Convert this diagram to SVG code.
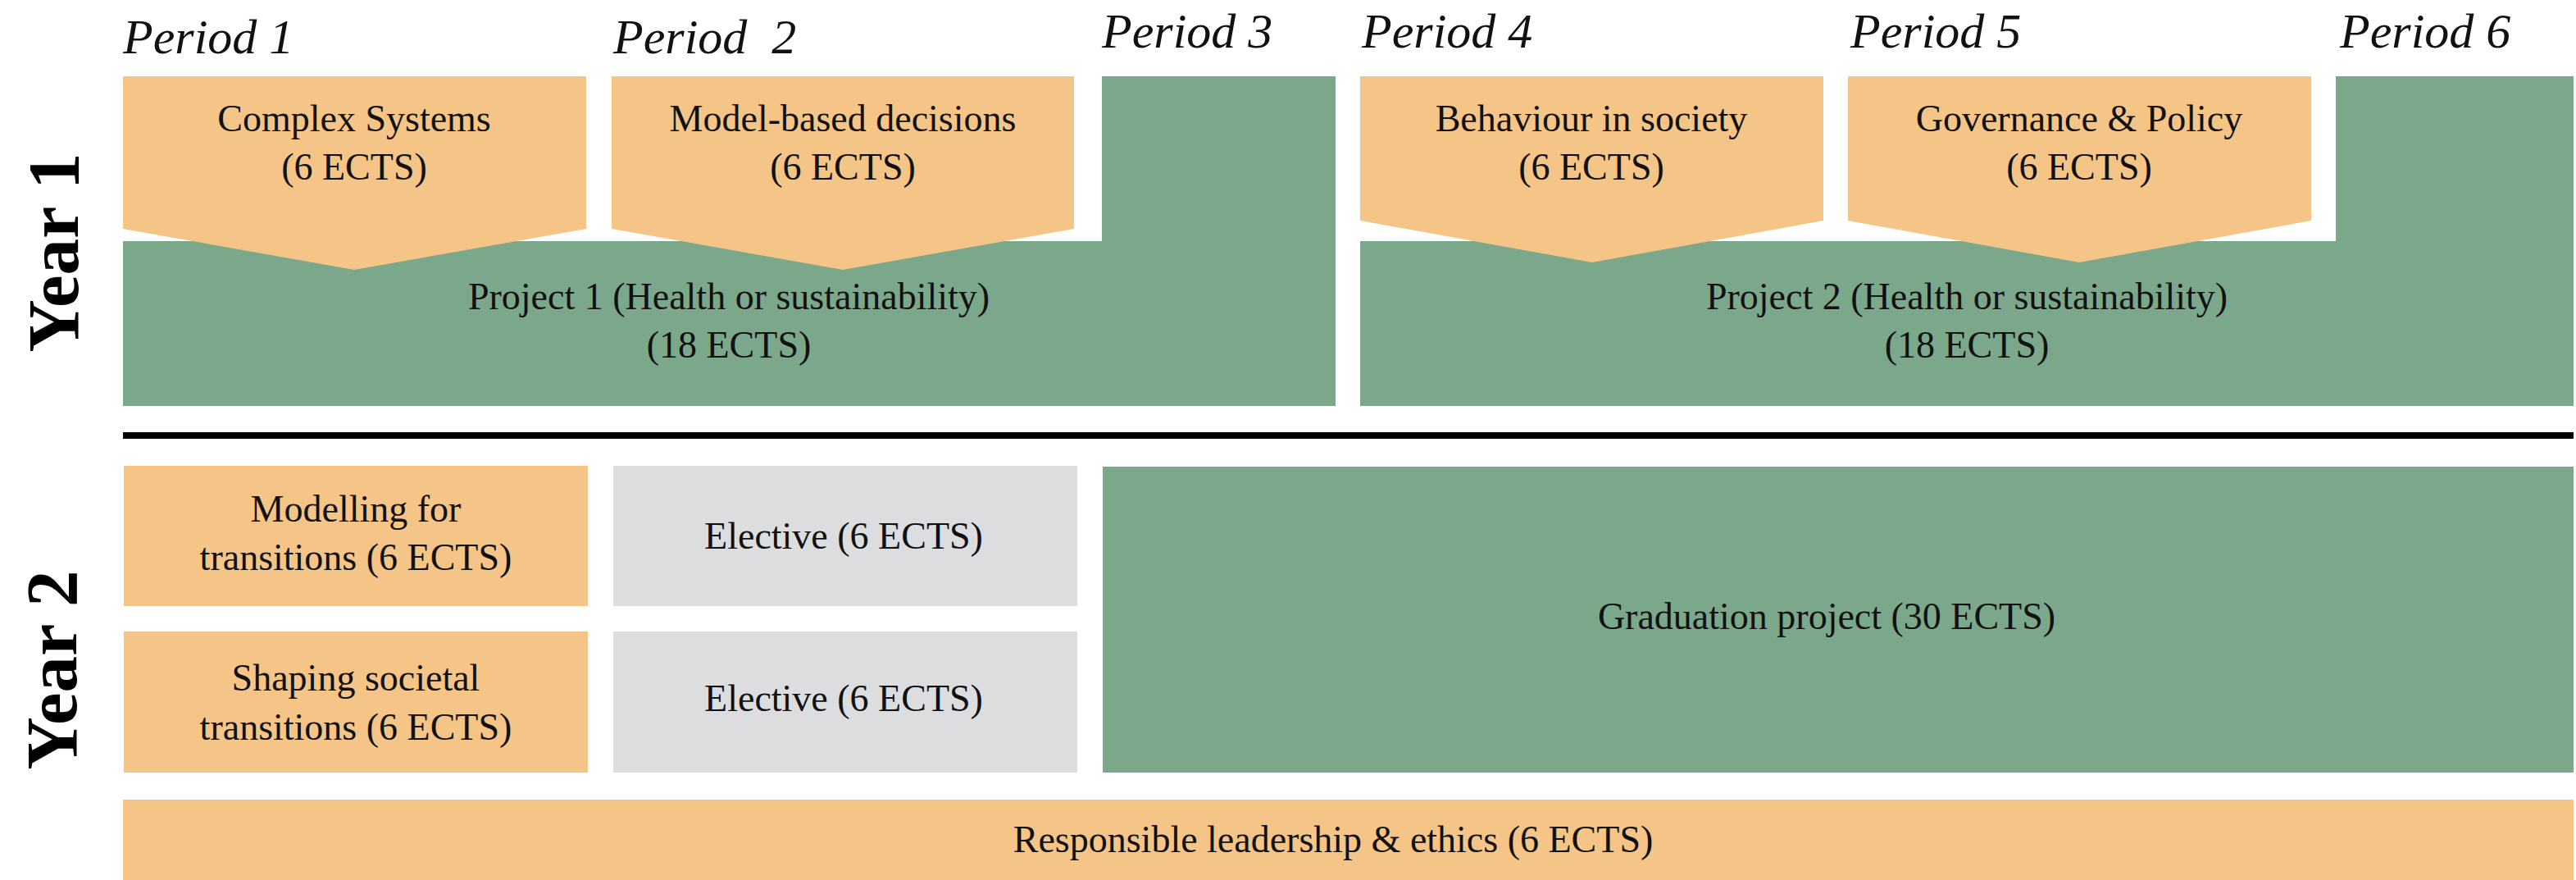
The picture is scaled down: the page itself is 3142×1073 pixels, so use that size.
<svg xmlns="http://www.w3.org/2000/svg" width="3142" height="1073" viewBox="0 0 3142 1073">
<style>
.bg{fill:#ffffff}
.or{fill:#F5C487}
.gr{fill:#7BA88B}
.gy{fill:#DCDDDF}
.t{font-family:"Liberation Serif","Times New Roman",serif;font-size:46px;fill:#111;text-anchor:middle}
.p{font-family:"Liberation Serif","Times New Roman",serif;font-style:italic;font-size:60px;fill:#111;white-space:pre}
.y{font-family:"Liberation Serif","Times New Roman",serif;font-weight:bold;font-size:89px;fill:#000;text-anchor:middle}
</style>
<rect class="bg" x="0" y="0" width="3142" height="1073"/>
<g id="period-labels">
<text class="p" x="150" y="65">Period 1</text>
<text class="p" x="748" y="65" xml:space="preserve">Period  2</text>
<text class="p" x="1344" y="58">Period 3</text>
<text class="p" x="1661" y="58">Period 4</text>
<text class="p" x="2257" y="58">Period 5</text>
<text class="p" x="2854" y="58">Period 6</text>
</g>
<g id="year-labels">
<text class="y" transform="translate(95,308) rotate(-90)">Year 1</text>
<text class="y" transform="translate(93,817) rotate(-90)">Year 2</text>
</g>
<g id="project1">
<polygon class="gr" points="150,294 1344,294 1344,93 1629,93 1629,495 150,495"/>
<text class="t" x="889" y="377">Project 1 (Health or sustainability)</text>
<text class="t" x="889" y="436">(18 ECTS)</text>
</g>
<g id="project2">
<polygon class="gr" points="1659,294 2849,294 2849,93 3139,93 3139,495 1659,495"/>
<text class="t" x="2399" y="377">Project 2 (Health or sustainability)</text>
<text class="t" x="2399" y="436">(18 ECTS)</text>
</g>
<g id="complex-systems">
<polygon class="or" points="150,93 715,93 715,279 432,329 150,279"/>
<text class="t" x="432" y="160">Complex Systems</text>
<text class="t" x="432" y="219">(6 ECTS)</text>
</g>
<g id="model-based">
<polygon class="or" points="746,93 1310,93 1310,279 1028,329 746,279"/>
<text class="t" x="1028" y="160">Model-based decisions</text>
<text class="t" x="1028" y="219">(6 ECTS)</text>
</g>
<g id="behaviour">
<polygon class="or" points="1659,93 2224,93 2224,269 1942,320 1659,269"/>
<text class="t" x="1941" y="160">Behaviour in society</text>
<text class="t" x="1941" y="219">(6 ECTS)</text>
</g>
<g id="governance">
<polygon class="or" points="2254,93 2819,93 2819,269 2536,320 2254,269"/>
<text class="t" x="2536" y="160">Governance &amp; Policy</text>
<text class="t" x="2536" y="219">(6 ECTS)</text>
</g>
<g id="divider">
<rect x="150" y="527" width="2989" height="8" fill="#000"/>
</g>
<g id="modelling-transitions">
<rect class="or" x="151" y="568" width="566" height="171"/>
<text class="t" x="434" y="636">Modelling for</text>
<text class="t" x="434" y="695">transitions (6 ECTS)</text>
</g>
<g id="shaping-transitions">
<rect class="or" x="151" y="770" width="566" height="172"/>
<text class="t" x="434" y="842">Shaping societal</text>
<text class="t" x="434" y="902">transitions (6 ECTS)</text>
</g>
<g id="elective1">
<rect class="gy" x="748" y="568" width="566" height="171"/>
<text class="t" x="1029" y="669">Elective (6 ECTS)</text>
</g>
<g id="elective2">
<rect class="gy" x="748" y="770" width="566" height="172"/>
<text class="t" x="1029" y="867">Elective (6 ECTS)</text>
</g>
<g id="graduation">
<rect class="gr" x="1345" y="569" width="1794" height="373"/>
<text class="t" x="2228" y="767">Graduation project (30 ECTS)</text>
</g>
<g id="leadership">
<rect class="or" x="150" y="975" width="2989" height="98"/>
<text class="t" x="1626" y="1039">Responsible leadership &amp; ethics (6 ECTS)</text>
</g>
<g id="connectors"></g>
</svg>
